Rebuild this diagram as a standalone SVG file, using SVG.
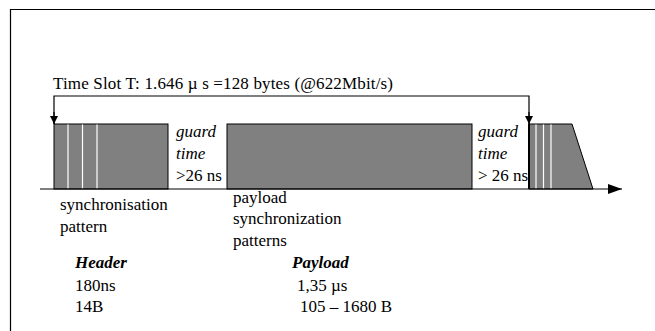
<svg xmlns="http://www.w3.org/2000/svg" width="655" height="331" viewBox="0 0 655 331">
<defs>
<style>
.t{font-family:"Liberation Serif","Times New Roman",serif;font-size:17px;fill:#000}
.i{font-style:italic}
.b{font-weight:bold;font-style:italic}
.blk{fill:#808080;stroke:#000;stroke-width:1}
.w{stroke:#fff;stroke-width:1.2}
.ln{stroke:#000;stroke-width:1.2;fill:none}
</style>
<marker id="ah" viewBox="0 0 10 10" refX="10" refY="5" markerWidth="8" markerHeight="8" markerUnits="userSpaceOnUse" orient="auto">
<path d="M0,0 L10,5 L0,10 z" fill="#000"/>
</marker>
<marker id="ah2" viewBox="0 0 10 10" refX="10" refY="5" markerWidth="14" markerHeight="10" markerUnits="userSpaceOnUse" orient="auto" preserveAspectRatio="none">
<path d="M0,0 L10,5 L0,10 z" fill="#000"/>
</marker>
</defs>
<rect width="655" height="331" fill="#fff"/>
<g id="frame">
<path d="M10.5,331 V9.5 H655" class="ln"/>
</g>
<g id="header1">
<rect x="54" y="124" width="114" height="65" class="blk"/>
<line x1="68" y1="124.5" x2="68" y2="188.5" class="w"/>
<line x1="82.5" y1="124.5" x2="82.5" y2="188.5" class="w"/>
<line x1="97" y1="124.5" x2="97" y2="188.5" class="w"/>
</g>
<g id="payload">
<rect x="227" y="124" width="245" height="65" class="blk"/>
</g>
<g id="header2">
<path d="M529,124 H572 L593,189 H529 Z" class="blk"/>
<line x1="536" y1="124.5" x2="536" y2="188.5" class="w"/>
<line x1="543.5" y1="124.5" x2="543.5" y2="188.5" class="w"/>
<line x1="551" y1="124.5" x2="551" y2="188.5" class="w"/>
<line x1="529" y1="124" x2="529" y2="189" stroke="#000" stroke-width="2"/>
</g>
<g id="connectors">
<line x1="40" y1="189" x2="622" y2="189" class="ln" marker-end="url(#ah2)"/>
<path d="M54,124 V96 H529 V124" class="ln"/>
<path d="M54,112 V124" class="ln" marker-end="url(#ah)"/>
<path d="M529,112 V124" class="ln" marker-end="url(#ah)"/>
</g>
<g id="labels">
<text x="53" y="89" class="t" textLength="340" lengthAdjust="spacing">Time Slot T: 1.646 µ s =128 bytes (@622Mbit/s)</text>
<text x="176" y="137" class="t i">guard</text>
<text x="176" y="159" class="t i">time</text>
<text x="176" y="181" class="t">&gt;26 ns</text>
<text x="478" y="137" class="t i">guard</text>
<text x="478" y="159" class="t i">time</text>
<text x="478" y="181" class="t">&gt; 26 ns</text>
<text x="60" y="210" class="t">synchronisation</text>
<text x="60" y="232" class="t">pattern</text>
<text x="233" y="203" class="t">payload</text>
<text x="233" y="224" class="t">synchronization</text>
<text x="233" y="246" class="t">patterns</text>
<text x="75" y="268" class="t b">Header</text>
<text x="75" y="291" class="t">180ns</text>
<text x="75" y="312" class="t">14B</text>
<text x="292" y="268" class="t b">Payload</text>
<text x="297" y="291" class="t">1,35 µs</text>
<text x="300" y="312" class="t">105 – 1680 B</text>
</g>
</svg>
